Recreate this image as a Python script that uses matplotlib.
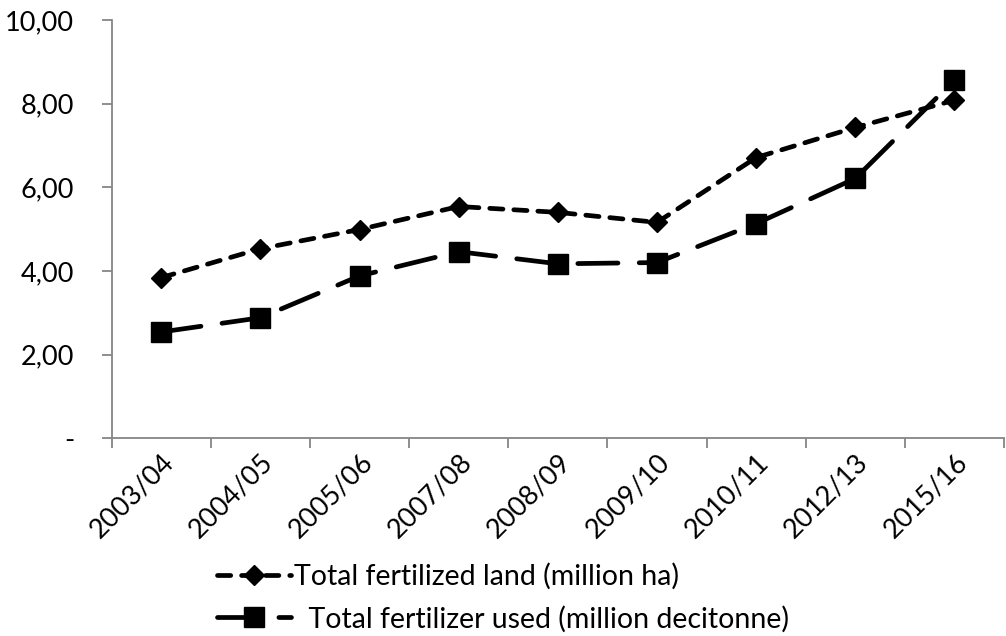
import matplotlib.pyplot as plt
import numpy as np

plt.rcParams["font.family"] = ["Lato", "DejaVu Sans"]

seasons = ["2003/04", "2004/05", "2005/06", "2007/08", "2008/09",
           "2009/10", "2010/11", "2012/13", "2015/16"]
fertilized_land = [3.84, 4.53, 4.99, 5.54, 5.40, 5.16, 6.71, 7.43, 8.08]
fertilizer_used = [2.54, 2.88, 3.88, 4.46, 4.17, 4.20, 5.13, 6.21, 8.56]
y_ticks = [0, 2, 4, 6, 8, 10]
y_tick_labels = ["-", "2,00", "4,00", "6,00", "8,00", "10,00"]

axis_grey = "#868686"

fig = plt.figure(figsize=(10.06, 6.36), dpi=100)
ax = fig.add_axes([0.111, 0.311, 0.887, 0.6576])

x = np.arange(len(seasons))
ax.plot(x, fertilized_land, color="black", lw=3.4, marker="D", ms=10,
        dashes=(2.8, 2.3), dash_capstyle="round",
        label="Total fertilized land (million ha)")
ax.plot(x, fertilizer_used, color="black", lw=3.4, marker="s", ms=14,
        dashes=(8.5, 4.5), dash_capstyle="round",
        label="  Total fertilizer used (million decitonne)")

ax.set_xlim(-0.5, len(seasons) - 0.5)
ax.set_ylim(0, 10)
ax.set_yticks(y_ticks)
ax.set_yticklabels(y_tick_labels)
ax.set_xticks(x)
ax.set_xticklabels(seasons, rotation=45, ha="right", va="top",
                   rotation_mode="anchor")
ax.set_xticks(np.arange(-0.5, len(seasons)), minor=True)

for side in ["top", "right"]:
    ax.spines[side].set_visible(False)
for side in ["left", "bottom"]:
    ax.spines[side].set_color(axis_grey)
    ax.spines[side].set_linewidth(1.3)

ax.tick_params(axis="y", length=7, width=1.3, color=axis_grey, pad=20,
               labelsize=19.5)
ax.tick_params(axis="x", which="major", length=0, pad=8, labelsize=19.5)
ax.tick_params(axis="x", which="minor", length=7, width=1.3, color=axis_grey)

fig.legend(loc="lower center", bbox_to_anchor=(0.5, -0.012), ncol=1,
           frameon=False, fontsize=20.5, handlelength=2.6, handletextpad=0.1,
           labelspacing=0.55, borderaxespad=0.0)

fig.savefig("out.png", dpi=100)
